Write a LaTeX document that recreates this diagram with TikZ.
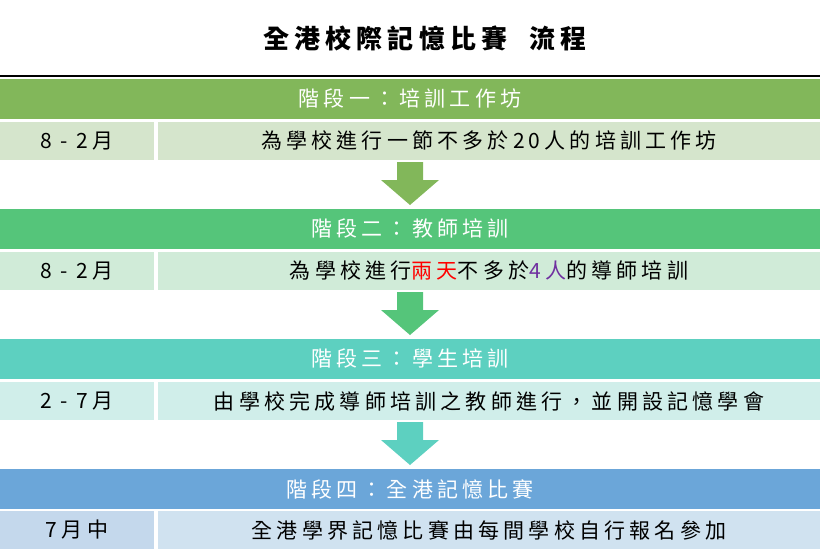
\documentclass[tikz,border=0pt]{standalone}
\usepackage{fontspec}
\setmainfont{Noto Sans CJK TC}
\newfontfamily\spacedfont[LetterSpace=20]{Noto Sans CJK TC}
\usetikzlibrary{positioning}
\definecolor{gOne}{HTML}{82B75A}
\definecolor{gOneL}{HTML}{D5E5CC}
\definecolor{gTwo}{HTML}{55C57A}
\definecolor{gTwoL}{HTML}{D0EBD8}
\definecolor{gThree}{HTML}{5DD0C0}
\definecolor{gThreeL}{HTML}{D0EEEA}
\definecolor{gFour}{HTML}{6BA6D9}
\definecolor{gFourL}{HTML}{D0E2F0}
\definecolor{gFourD}{HTML}{C4D8EC}
\definecolor{txtpurple}{HTML}{7030A0}
\tikzset{
  stagebar/.style={fill=#1, draw=none, minimum width=820pt, minimum height=40pt, inner sep=0pt, text=white, font=\spacedfont\fontsize{21}{24}\selectfont},
  datecell/.style={fill=#1, draw=none, minimum width=154pt, minimum height=38pt, inner sep=0pt, font=\spacedfont\fontsize{21}{24}\selectfont},
  desccell/.style={fill=#1, draw=none, minimum width=662pt, minimum height=38pt, inner sep=0pt, font=\spacedfont\fontsize{21}{24}\selectfont},
}
\newcommand{\downarrowshape}[3]{% color, top y, x
  \fill[#1] (#3-13,#2) -- (#3+13,#2) -- (#3+13,#2+18) -- (#3+29,#2+18) -- (#3,#2+43) -- (#3-29,#2+18) -- (#3-13,#2+18) -- cycle;}
\begin{document}
\begin{tikzpicture}[x=1pt,y=-1pt]
  \useasboundingbox (0,0) rectangle (820,549);
  \node[font=\spacedfont\bfseries\fontsize{26}{30}\selectfont] (title) at (425,38) {全港校際記憶比賽\ \ 流程};
  \draw[line width=1.5pt] (0,76) -- (820,76);
  % stage one
  \node[stagebar=gOne] (s1) at (410,99) {階段一：培訓工作坊};
  \node[datecell=gOneL] (d1) at (77,141) {8 - 2月};
  \node[desccell=gOneL] (t1) at (489,141) {為學校進行一節不多於20人的培訓工作坊};
  \downarrowshape{gOne}{162}{410}
  % stage two
  \node[stagebar=gTwo] (s2) at (410,229) {階段二：教師培訓};
  \node[datecell=gTwoL] (d2) at (77,271) {8 - 2月};
  \node[desccell=gTwoL] (t2) at (489,271) {為學校進行\textcolor{red}{兩天}不多於\textcolor{txtpurple}{4人}的導師培訓};
  \downarrowshape{gTwo}{292}{410}
  % stage three
  \node[stagebar=gThree] (s3) at (410,359) {階段三：學生培訓};
  \node[datecell=gThreeL] (d3) at (77,401) {2 - 7月};
  \node[desccell=gThreeL] (t3) at (489,401) {由學校完成導師培訓之教師進行，並開設記憶學會};
  \downarrowshape{gThree}{422}{410}
  % stage four
  \node[stagebar=gFour] (s4) at (410,489) {階段四：全港記憶比賽};
  \node[datecell=gFourD] (d4) at (77,530) {7月中};
  \node[desccell=gFourL] (t4) at (489,530) {全港學界記憶比賽由每間學校自行報名參加};
\end{tikzpicture}
\end{document}
